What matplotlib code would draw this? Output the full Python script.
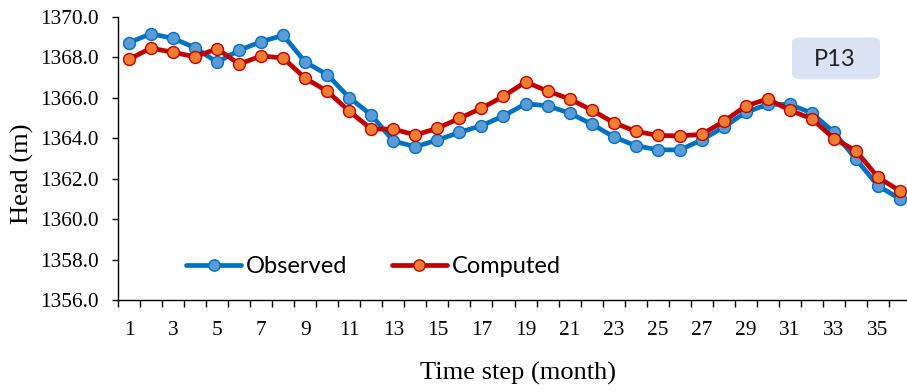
import matplotlib
matplotlib.use("Agg")
import matplotlib.pyplot as plt
from matplotlib.patches import FancyBboxPatch
import numpy as np

months = list(range(1, 37))
observed = [1368.72, 1369.16, 1368.93, 1368.47, 1367.75, 1368.34, 1368.77, 1369.08,
            1367.76, 1367.14, 1366.00, 1365.15, 1363.86, 1363.58, 1363.91, 1364.29,
            1364.62, 1365.10, 1365.70, 1365.60, 1365.24, 1364.70, 1364.07, 1363.63,
            1363.43, 1363.42, 1363.91, 1364.55, 1365.28, 1365.67, 1365.67, 1365.24,
            1364.29, 1362.97, 1361.65, 1361.00]
computed = [1367.90, 1368.45, 1368.24, 1368.02, 1368.42, 1367.66, 1368.06, 1367.96,
            1366.96, 1366.32, 1365.33, 1364.45, 1364.45, 1364.16, 1364.49, 1364.98,
            1365.48, 1366.07, 1366.78, 1366.33, 1365.94, 1365.39, 1364.77, 1364.34,
            1364.14, 1364.11, 1364.19, 1364.83, 1365.59, 1365.94, 1365.38, 1364.96,
            1363.98, 1363.38, 1362.07, 1361.39]
x_labels = [str(m) for m in range(1, 37, 2)]
y_ticks = [1356.0, 1358.0, 1360.0, 1362.0, 1364.0, 1366.0, 1368.0, 1370.0]
station = "P13"

W, H = 907, 392
fig = plt.figure(figsize=(W / 100, H / 100), dpi=100)
ax_l, ax_r, ax_t, ax_b = 118, 911, 16.7, 300.2
ax = fig.add_axes([ax_l / W, 1 - ax_b / H, (ax_r - ax_l) / W, (ax_b - ax_t) / H])
ax.set_facecolor("none")

ax.plot(months, observed, color="#0070C0", lw=3.4, marker="o", ms=8.6,
        mfc="#5B9BD5", mec="#0070C0", mew=1.0, label="Observed", zorder=3,
        solid_capstyle="round", solid_joinstyle="round", clip_on=False)
ax.plot(months, computed, color="#C00000", lw=3.4, marker="o", ms=8.6,
        mfc="#ED7D31", mec="#C00000", mew=1.0, label="Computed", zorder=4,
        solid_capstyle="round", solid_joinstyle="round", clip_on=False)

ax.set_xlim(0.5, 36.5)
ax.set_ylim(1356.0, 1370.0)
ax.set_yticks(y_ticks)
ax.set_yticklabels([f"{v:.1f}" for v in y_ticks])
ax.set_xticks(np.arange(0.5, 37, 1.0))
ax.set_xticklabels([])
ax.set_xticks(list(range(1, 37, 2)), minor=True)
ax.set_xticklabels(x_labels, minor=True)
ax.tick_params(axis="x", which="major", direction="out", length=4.7, width=1, color="black")
ax.tick_params(axis="x", which="minor", length=0, pad=15)
ax.tick_params(axis="y", direction="out", length=4, width=1, pad=10)

serif = ["Liberation Serif", "DejaVu Serif"]
for lab in ax.get_xticklabels(minor=True) + ax.get_yticklabels():
    lab.set_fontfamily(serif)
    lab.set_fontsize(15.4)
    lab.set_color("black")

for s in ["top", "right"]:
    ax.spines[s].set_visible(False)
for s in ["left", "bottom"]:
    ax.spines[s].set_color("black")
    ax.spines[s].set_linewidth(1.0)

fig.text(22 / W, 1 - 173.5 / H, "Head (m)", rotation=90, ha="center", va="center",
         fontsize=19, family=serif)
fig.text(518.5 / W, 1 - 373 / H, "Time step (month)", ha="center", va="center",
         fontsize=19, family=serif)

leg = ax.legend(loc="center left", bbox_to_anchor=(186 / W, 1 - 266.7 / H),
                bbox_transform=fig.transFigure, ncol=2, frameon=False,
                prop={"family": ["Lato", "DejaVu Sans"], "size": 17},
                handlelength=2.33, handletextpad=0.2, columnspacing=1.9,
                borderaxespad=0, borderpad=0, markerscale=0.95)

box = FancyBboxPatch((792 / W, 1 - 79.3 / H), 88 / W, 42 / H,
                     boxstyle="round,pad=0,rounding_size=0.012",
                     transform=fig.transFigure, facecolor="#DAE3F3",
                     edgecolor="none", zorder=1)
fig.patches.append(box)
fig.text(835 / W, 1 - 59 / H, station, ha="center", va="center",
         fontsize=17, family=["Lato", "DejaVu Sans"], color="#222222")

fig.savefig("out.png", dpi=100)
